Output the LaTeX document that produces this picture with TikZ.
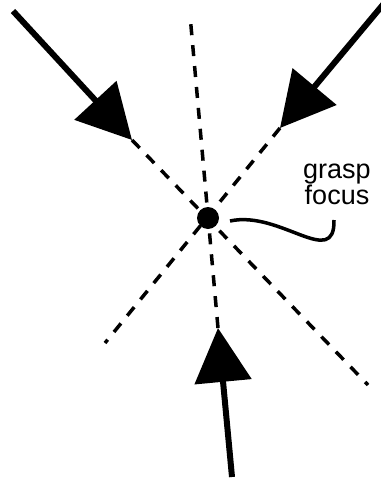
\documentclass[tikz,border=0pt]{standalone}
\usepackage{fontspec}
\setmainfont{Liberation Sans}
\usetikzlibrary{arrows.meta}

\begin{document}
\begin{tikzpicture}[x=1pt,y=-1pt,
  push/.style={line width=6pt,-{Triangle[length=54pt,width=56pt]}},
  ray/.style={line width=3.5pt,dash pattern=on 11pt off 10pt}]
  \useasboundingbox (0,0) rectangle (380,479);
  \coordinate (tailA) at (13,11);  \coordinate (tipA) at (132,140); \coordinate (endA) at (368,385);
  \coordinate (tailB) at (386,1);  \coordinate (tipB) at (280,128); \coordinate (endB) at (105,343);
  \coordinate (tailC) at (232,477); \coordinate (tipC) at (218,328); \coordinate (endC) at (190,15);
  \draw[push] (tailA) -- (tipA); \draw[ray] (tipA) -- (endA);
  \draw[push] (tailB) -- (tipB); \draw[ray] (tipB) -- (endB);
  \draw[push] (tailC) -- (tipC); \draw[ray] (tipC) -- (endC);
  \node[circle,fill,minimum size=22pt,inner sep=0pt] (focus) at (208,218) {};
  \node[align=center,font=\fontsize{27}{25}\selectfont] (lbl) at (337,184) {grasp\\focus};
  \coordinate (wireS) at (230,221); \coordinate (wireE) at (334,220);
  \draw[line width=3.5pt] (wireS) .. controls (280,210) and (335,270) .. (wireE);
\end{tikzpicture}
\end{document}
